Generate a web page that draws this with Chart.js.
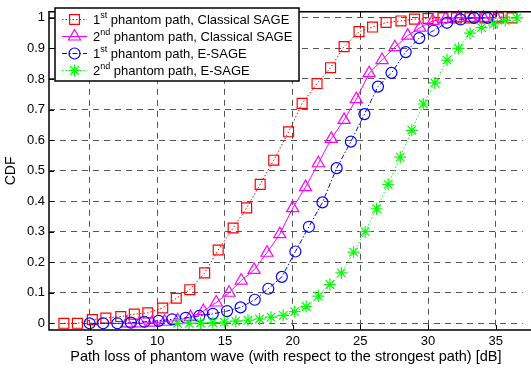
<!DOCTYPE html>
<html>
<head>
<meta charset="utf-8">
<script src="https://cdn.jsdelivr.net/npm/chart.js@4.4.1/dist/chart.umd.min.js"></script>
<style>
  html, body { margin: 0; padding: 0; background: #fff; }
  #wrap { width: 531px; height: 369px; }
</style>
</head>
<body>
<div id="wrap"><canvas id="myChart"></canvas></div>
<script>
// path loss [dB] and CDF values
const xClassical1 = [3.1, 4.1, 5.2, 6.2, 7.3, 8.3, 9.3, 10.4, 11.4, 12.4, 13.5, 14.5, 15.6, 16.6, 17.6, 18.6, 19.7, 20.7, 21.8, 22.8, 23.8, 24.9, 25.9, 26.9, 28.0, 29.0, 30.0, 31.1, 32.1, 33.1, 34.2, 35.2, 36.2];
const yClassical1 = [0, 0, 0.012, 0.017, 0.022, 0.03, 0.034, 0.05, 0.082, 0.11, 0.165, 0.24, 0.312, 0.378, 0.455, 0.534, 0.627, 0.72, 0.785, 0.837, 0.906, 0.955, 0.97, 0.985, 0.99, 0.996, 0.998, 1, 1, 1, 1, 1, 1];

const xClassical2 = [7.75, 8.7, 9.6, 10.55, 11.5, 12.45, 13.4, 14.35, 15.3, 16.2, 17.15, 18.1, 19.05, 20.0, 20.95, 21.9, 22.85, 23.8, 24.7, 25.65, 26.6, 27.55, 28.5, 29.4, 30.35, 31.3, 32.25, 33.2, 34.1, 35.05];
const yClassical2 = [0, 0, 0.002, 0.005, 0.01, 0.02, 0.04, 0.068, 0.1, 0.14, 0.175, 0.231, 0.292, 0.377, 0.446, 0.524, 0.604, 0.666, 0.734, 0.819, 0.862, 0.904, 0.942, 0.968, 0.99, 0.997, 1, 1, 1, 1];

const xESage1 = [5.0, 6.0, 7.05, 8.05, 9.05, 10.1, 11.1, 12.1, 13.1, 14.1, 15.15, 16.15, 17.2, 18.2, 19.2, 20.2, 21.2, 22.2, 23.25, 24.3, 25.3, 26.3, 27.3, 28.35, 29.35, 30.4, 31.4, 32.4, 33.4, 34.4];
const yESage1 = [0, 0, 0, 0.002, 0.005, 0.008, 0.013, 0.018, 0.024, 0.031, 0.04, 0.052, 0.077, 0.113, 0.152, 0.235, 0.316, 0.396, 0.508, 0.595, 0.685, 0.775, 0.82, 0.888, 0.934, 0.958, 0.984, 0.995, 1, 1];

const xESage2 = [11.5, 12.35, 13.2, 14.1, 14.95, 15.8, 16.7, 17.55, 18.4, 19.3, 20.15, 21.0, 21.9, 22.75, 23.6, 24.5, 25.35, 26.2, 27.05, 27.95, 28.8, 29.65, 30.5, 31.4, 32.25, 33.1, 33.95, 34.85, 35.7, 36.55];
const yESage2 = [0, 0, 0.001, 0.002, 0.004, 0.007, 0.01, 0.014, 0.02, 0.026, 0.038, 0.055, 0.089, 0.127, 0.165, 0.233, 0.3, 0.375, 0.455, 0.544, 0.632, 0.718, 0.787, 0.862, 0.9, 0.95, 0.968, 0.98, 0.992, 1];

const xTicks = [5, 10, 15, 20, 25, 30, 35];
const yTicks = [0, 0.1, 0.2, 0.3, 0.4, 0.5, 0.6, 0.7, 0.8, 0.9, 1];

// legend text: number, superscript, rest
const legendLabels = [
  ['1', 'st', ' phantom path, Classical SAGE'],
  ['2', 'nd', ' phantom path, Classical SAGE'],
  ['1', 'st', ' phantom path, E-SAGE'],
  ['2', 'nd', ' phantom path, E-SAGE']
];

const FONT = 'Arial, "Liberation Sans", sans-serif';

function pts(xs, ys) {
  return xs.map((x, i) => ({ x: x, y: ys[i] }));
}

const data = {
  datasets: [{
    label: legendLabels[0].join(''),
    data: pts(xClassical1, yClassical1),
    borderColor: '#ff0000',
    borderWidth: 1,
    borderDash: [1.5, 2],
    pointStyle: 'rect',
    pointRadius: 7,
    pointBorderColor: '#ff0000',
    pointBackgroundColor: 'rgba(0,0,0,0)',
    pointBorderWidth: 1.2,
    order: 4
  }, {
    label: legendLabels[1].join(''),
    data: pts(xClassical2, yClassical2),
    borderColor: '#ff00ff',
    borderWidth: 1,
    pointStyle: 'triangle',
    pointRadius: 7,
    pointBorderColor: '#ff00ff',
    pointBackgroundColor: 'rgba(0,0,0,0)',
    pointBorderWidth: 1.2,
    order: 3
  }, {
    label: legendLabels[2].join(''),
    data: pts(xESage1, yESage1),
    borderColor: '#0000ff',
    borderWidth: 1,
    borderDash: [5, 2, 1.5, 2],
    pointStyle: 'circle',
    pointRadius: 5.5,
    pointBorderColor: '#0000ff',
    pointBackgroundColor: 'rgba(0,0,0,0)',
    pointBorderWidth: 1.2,
    order: 2
  }, {
    label: legendLabels[3].join(''),
    data: pts(xESage2, yESage2),
    borderColor: '#00ff00',
    borderWidth: 1,
    borderDash: [1.5, 2],
    pointStyle: 'star',
    pointRadius: 6,
    pointBorderColor: '#00ff00',
    pointBackgroundColor: 'rgba(0,0,0,0)',
    pointBorderWidth: 1.2,
    order: 1
  }]
};

// frame (no right edge, the figure is cut there), inward ticks, legend with superscripts
const matlabLook = {
  id: 'matlabLook',
  afterDraw(chart) {
    const ctx = chart.ctx;
    const a = chart.chartArea;
    const xs = chart.scales.x, ys = chart.scales.y;
    ctx.save();
    ctx.strokeStyle = '#000';
    ctx.lineWidth = 1.5;
    ctx.setLineDash([]);
    ctx.beginPath();
    ctx.moveTo(chart.width, a.top);
    ctx.lineTo(a.left, a.top);
    ctx.lineTo(a.left, a.bottom);
    ctx.lineTo(chart.width, a.bottom);
    ctx.stroke();

    ctx.lineWidth = 1;
    ctx.beginPath();
    xTicks.forEach(v => {
      const p = Math.round(xs.getPixelForValue(v)) + 0.5;
      ctx.moveTo(p, a.bottom); ctx.lineTo(p, a.bottom - 5);
      ctx.moveTo(p, a.top); ctx.lineTo(p, a.top + 5);
    });
    yTicks.forEach(v => {
      const p = Math.round(ys.getPixelForValue(v)) + 0.5;
      ctx.moveTo(a.left, p); ctx.lineTo(a.left + 5, p);
    });
    ctx.stroke();

    // legend
    const bx = 55, by = 8, bw = 244, bh = 73;
    ctx.fillStyle = '#fff';
    ctx.fillRect(bx, by, bw, bh);
    ctx.lineWidth = 1.5;
    ctx.strokeRect(bx, by, bw, bh);

    chart.data.datasets.forEach((ds, i) => {
      const y = by + 11.5 + i * 17;
      ctx.save();
      ctx.strokeStyle = ds.borderColor;
      ctx.fillStyle = 'rgba(0,0,0,0)';
      ctx.lineWidth = 1;
      ctx.setLineDash(ds.borderDash || []);
      ctx.beginPath();
      ctx.moveTo(bx + 7, y); ctx.lineTo(bx + 32, y);
      ctx.stroke();
      ctx.setLineDash([]);
      ctx.lineWidth = ds.pointBorderWidth;
      Chart.helpers.drawPoint(ctx, {
        pointStyle: ds.pointStyle, radius: ds.pointRadius, rotation: 0, borderWidth: ds.pointBorderWidth
      }, bx + 19.5, y);
      ctx.restore();

      const lab = legendLabels[i];
      let tx = bx + 38;
      ctx.fillStyle = '#000';
      ctx.textBaseline = 'middle';
      ctx.font = '13px ' + FONT;
      ctx.fillText(lab[0], tx, y + 1);
      tx += ctx.measureText(lab[0]).width;
      ctx.font = '9px ' + FONT;
      ctx.fillText(lab[1], tx, y - 4);
      tx += ctx.measureText(lab[1]).width;
      ctx.font = '13px ' + FONT;
      ctx.fillText(lab[2], tx, y + 1);
    });
    ctx.restore();
  }
};

const config = {
  type: 'line',
  data: data,
  options: {
    responsive: true,
    maintainAspectRatio: false,
    animation: false,
    devicePixelRatio: 1,
    layout: { padding: { top: 4, right: 0, left: 0, bottom: 0 } },
    datasets: { line: { clip: false, tension: 0, fill: false } },
    plugins: {
      legend: { display: false },
      tooltip: { enabled: false }
    },
    scales: {
      x: {
        type: 'linear',
        min: 2,
        max: 37,
        afterBuildTicks: s => { s.ticks = xTicks.map(v => ({ value: v })); },
        afterFit: s => { s.height = 39; },
        ticks: { color: '#000', font: { family: FONT, size: 13 }, padding: 4, maxRotation: 0 },
        grid: { color: '#555', lineWidth: 1, drawTicks: false },
        border: { display: false, dash: [6, 5] },
        title: {
          display: true,
          text: 'Path loss of phantom wave (with respect to the strongest path) [dB]',
          color: '#000',
          font: { family: FONT, size: 14.5 },
          padding: { top: 0, bottom: 3 }
        }
      },
      y: {
        min: -0.022,
        max: 1.02,
        afterBuildTicks: s => { s.ticks = yTicks.map(v => ({ value: v })); },
        afterFit: s => { s.width = 49; },
        ticks: {
          color: '#000',
          font: { family: FONT, size: 13 },
          padding: 4,
          callback: v => String(Math.round(v * 10) / 10)
        },
        grid: { color: '#555', lineWidth: 1, drawTicks: false },
        border: { display: false, dash: [6, 5] },
        title: {
          display: true,
          text: 'CDF',
          color: '#000',
          font: { family: FONT, size: 14 },
          padding: { top: 3, bottom: 0 }
        }
      }
    }
  },
  plugins: [matlabLook]
};

const myChart = new Chart(document.getElementById('myChart').getContext('2d'), config);
</script>
</body>
</html>
